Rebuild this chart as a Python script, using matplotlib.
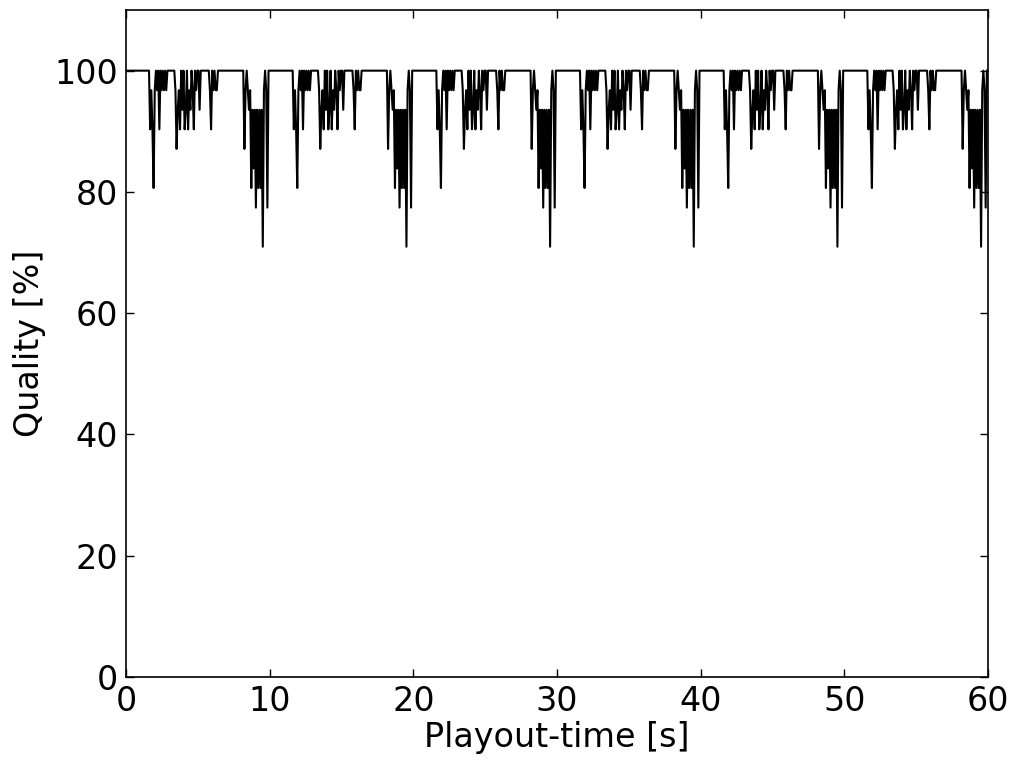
import numpy as np
import matplotlib
matplotlib.use('Agg')
import matplotlib.pyplot as plt

# quality level of each frame in one 10 s loop (out of 31 layers, 31 = 100 %)
# the clip is played 6 times in a row, frame step 0.08 s
frame_step = 0.08
n_loops = 6
loop_levels = [31, 31, 31, 31, 31, 31, 31, 31, 31, 31, 31, 31, 31, 31, 31, 31, 31, 31, 31, 31, 31,
               28, 30, 28, 25, 30, 31, 30, 31, 28, 31, 30, 31, 30, 31, 30,
               31, 31, 31, 31, 31, 31, 31,
               30, 27, 29, 30, 28, 31, 29, 31, 28, 29, 31, 28, 30, 29, 31, 30, 28, 31, 30,
               31, 31, 29, 31, 31, 31, 31, 31, 31, 31, 31,
               30, 28, 31, 30, 31, 30, 30,
               31, 31, 31, 31, 31, 31, 31, 31, 31, 31, 31, 31, 31, 31, 31, 31, 31, 31, 31, 31, 31, 31, 31,
               27, 30, 31, 30, 29, 30, 25, 29, 26, 29, 24, 29, 25, 29, 25, 29, 22, 30, 31, 30, 24, 31]
n_layers = 31

levels = np.tile(loop_levels, n_loops)
quality = levels / n_layers * 100.0
playout_time = np.arange(len(levels)) * frame_step

fig = plt.figure(figsize=(10.18, 7.6), dpi=100)
ax = fig.add_axes([0.1238, 0.1092, 0.8467, 0.8776])
ax.plot(playout_time, quality, color='k', lw=1.5)

ax.set_xlim(0, 60)
ax.set_ylim(0, 110)
ax.set_xticks([0, 10, 20, 30, 40, 50, 60])
ax.set_yticks([0, 20, 40, 60, 80, 100])
ax.tick_params(direction='in', length=5.5, width=1, top=True, right=True, labelsize=24, pad=6)
for s in ax.spines.values():
    s.set_linewidth(1.2)
ax.set_xlabel('Playout-time [s]', fontsize=24, labelpad=2)
ax.set_ylabel('Quality [%]', fontsize=24, labelpad=6)

fig.savefig('out.png', dpi=100)
